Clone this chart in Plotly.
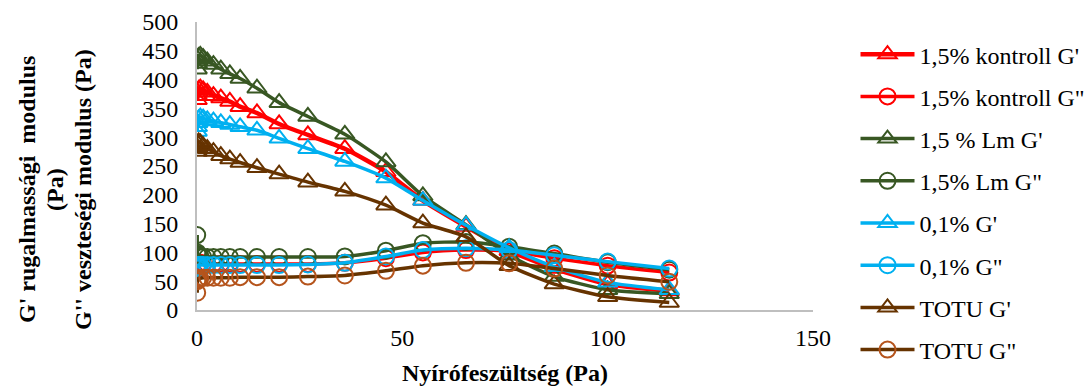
import plotly.graph_objects as go

# Shear stress (Pa)
x_stress = [0.05, 0.1, 0.2, 0.4, 0.8, 1.5, 2.5, 4, 5.8, 8, 10.5, 14.6, 20, 27, 36, 46, 55, 65.5, 76, 87, 100, 115]

kontroll_G1 = [365, 372, 378, 383, 385, 382, 378, 372, 368, 362, 353, 342, 323, 304, 280, 240, 190, 145, 103, 72, 45, 33]
kontroll_G2 = [70, 75, 78, 80, 82, 80, 80, 80, 80, 80, 80, 80, 80, 80, 82, 90, 100, 104, 102, 90, 77, 65]
lm_G1 = [418, 428, 435, 440, 442, 438, 432, 426, 418, 410, 402, 385, 360, 336, 305, 257, 198, 148, 95, 58, 35, 28]
lm_G2 = [130, 100, 97, 95, 93, 92, 92, 92, 92, 92, 92, 92, 92, 92, 93, 103, 116, 118, 110, 98, 83, 70]
p01_G1 = [310, 318, 325, 332, 335, 333, 330, 328, 325, 322, 318, 312, 298, 280, 258, 229, 190, 147, 108, 75, 48, 35]
p01_G2 = [72, 75, 77, 78, 78, 78, 78, 78, 78, 78, 78, 78, 78, 79, 82, 93, 104, 107, 104, 95, 84, 72]
totu_G1 = [275, 282, 288, 292, 290, 285, 280, 275, 268, 262, 256, 247, 236, 222, 206, 182, 151, 127, 77, 45, 23, 13]
totu_G2 = [30, 50, 53, 55, 55, 56, 56, 56, 56, 56, 57, 57, 57, 58, 60, 68, 77, 82, 81, 72, 60, 49]

series_names = ["1,5% kontroll G'", "1,5% kontroll G\"", "1,5 % Lm G'", "1,5% Lm G\"",
                "0,1% G'", "0,1% G\"", "TOTU G'", "TOTU G\""]
series_values = [kontroll_G1, kontroll_G2, lm_G1, lm_G2, p01_G1, p01_G2, totu_G1, totu_G2]
line_colors = ["#FF0000", "#FF0000", "#385723", "#385723", "#00B0F0", "#00B0F0", "#663300", "#663300"]
marker_colors = ["#FF0000", "#FF0000", "#385723", "#385723", "#00B0F0", "#00B0F0", "#663300", "#B5541C"]
line_widths = [4.5, 3.5, 3.5, 3.5, 3.5, 3.5, 3.5, 3.5]
symbols = ["triangle-up-open", "circle-open"] * 4

FONT = "Liberation Serif, Times New Roman, DejaVu Serif, serif"
FS = 24

fig = go.Figure()
for i, (name, vals) in enumerate(zip(series_names, series_values)):
    fig.add_trace(go.Scatter(
        x=x_stress, y=vals, name=name, mode="lines+markers",
        line=dict(color=line_colors[i], width=line_widths[i], shape="spline", smoothing=0.6),
        marker=dict(symbol=symbols[i], size=17 if i % 2 == 0 else 16,
                    color=marker_colors[i], line=dict(color=marker_colors[i], width=2)),
        legendgroup=str(i),
    ))

fig.update_layout(
    width=1086, height=387,
    margin=dict(l=197, r=273, t=22, b=77, autoexpand=False),
    paper_bgcolor="white", plot_bgcolor="white",
    font=dict(family=FONT, size=FS, color="black"),
    showlegend=True,
    legend=dict(x=1.069, y=0.965, xanchor="left", yanchor="top",
                font=dict(family=FONT, size=FS, color="black"),
                tracegroupgap=8, itemwidth=54, bgcolor="rgba(0,0,0,0)",
                maxheight=500),
    xaxis=dict(range=[0, 150], tickvals=[0, 50, 100, 150], showgrid=False, zeroline=False,
               showline=True, linecolor="#BFBFBF", linewidth=2, ticks="",
               ticklabelstandoff=5, tickfont=dict(family=FONT, size=FS), automargin=False,
               title=dict(text="Nyírófeszültség (Pa)", standoff=14,
                          font=dict(family=FONT, size=FS, weight="bold"))),
    yaxis=dict(range=[0, 500], tickvals=list(range(0, 501, 50)), showgrid=False, zeroline=False,
               showline=True, linecolor="#BFBFBF", linewidth=2, ticks="", automargin=False,
               ticklabelstandoff=12, tickfont=dict(family=FONT, size=FS)),
)

ytitle_lines = [("G' rugalmassági\u00a0 modulus", 27), ("(Pa)", 55), ("G'' veszteségi modulus (Pa)", 83)]
for text, px in ytitle_lines:
    fig.add_annotation(text=text, xref="paper", yref="paper",
                       x=(px - 197) / 616, y=(310 - 190) / 288,
                       xanchor="center", yanchor="middle", textangle=-90, showarrow=False,
                       font=dict(family=FONT, size=FS, weight="bold", color="black"))

fig.write_html("out.html")
